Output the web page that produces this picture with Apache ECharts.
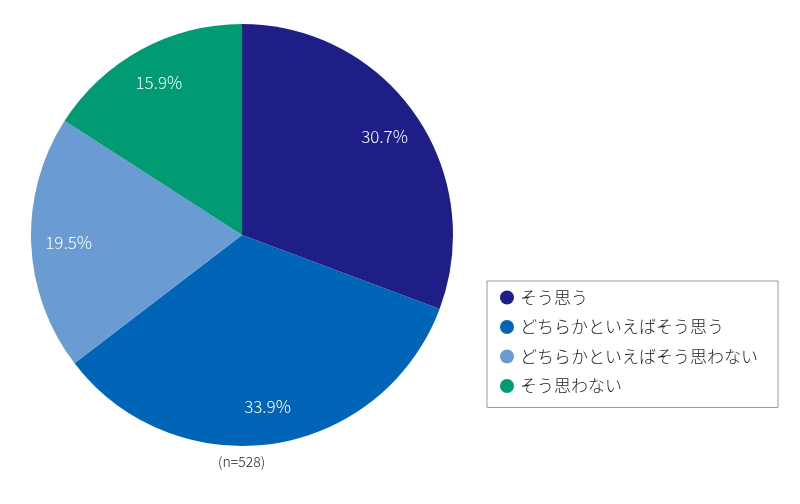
<!DOCTYPE html>
<html>
<head>
<meta charset="utf-8">
<script src="https://cdn.jsdelivr.net/npm/echarts@6/dist/echarts.min.js"></script>
<style>
  html, body { margin: 0; padding: 0; background: #fff; }
  #chart { width: 800px; height: 504px; }
</style>
</head>
<body>
<div id="chart"></div>
<script>
const categories = ['そう思う', 'どちらかといえばそう思う', 'どちらかといえばそう思わない', 'そう思わない'];
const shares = [30.7, 33.9, 19.5, 15.9];
const colors = ['#1f1e87', '#0065b7', '#6b9bd3', '#009b72'];
const sampleNote = '(n=528)';

const chart = echarts.init(document.getElementById('chart'));
const font = '"Noto Sans CJK JP", "Noto Sans", sans-serif';

const pieData = categories.map((name, i) => ({
    name: name,
    value: shares[i],
    itemStyle: { color: colors[i] }
}));

chart.setOption({
    animation: false,
    textStyle: { fontFamily: font },
    legend: {
        orient: 'vertical',
        left: 487,
        top: 281,
        padding: [8, 20, 13, 13],
        itemGap: 12.5,
        itemWidth: 14,
        itemHeight: 14,
        icon: 'circle',
        borderColor: '#999',
        borderWidth: 1,
        textStyle: { fontSize: 17, fontWeight: 300, color: '#222', fontFamily: font, padding: [0, 0, 0, 1] },
        data: categories
    },
    graphic: [{
        type: 'text',
        left: 218,
        top: 455,
        style: { text: sampleNote, fontSize: 14, fill: '#222', fontFamily: font, fontWeight: 300 }
    }],
    series: [
        {
            type: 'pie',
            center: [242, 235],
            radius: [0, 211],
            startAngle: 90,
            clockwise: true,
            silent: true,
            label: { show: false },
            labelLine: { show: false },
            itemStyle: { borderWidth: 0 },
            data: pieData
        },
        {
            // transparent ring that only carries the percentage labels
            type: 'pie',
            center: [242, 235],
            radius: [130, 211],
            startAngle: 90,
            clockwise: true,
            silent: true,
            legendHoverLink: false,
            itemStyle: { color: 'rgba(0,0,0,0)' },
            label: {
                show: true,
                position: 'inside',
                color: '#fff',
                fontSize: 17,
                fontWeight: 300,
                fontFamily: font,
                formatter: p => p.value.toFixed(1) + '%'
            },
            labelLine: { show: false },
            data: categories.map((name, i) => ({ name: '_' + name, value: shares[i] }))
        }
    ]
});
</script>
</body>
</html>
